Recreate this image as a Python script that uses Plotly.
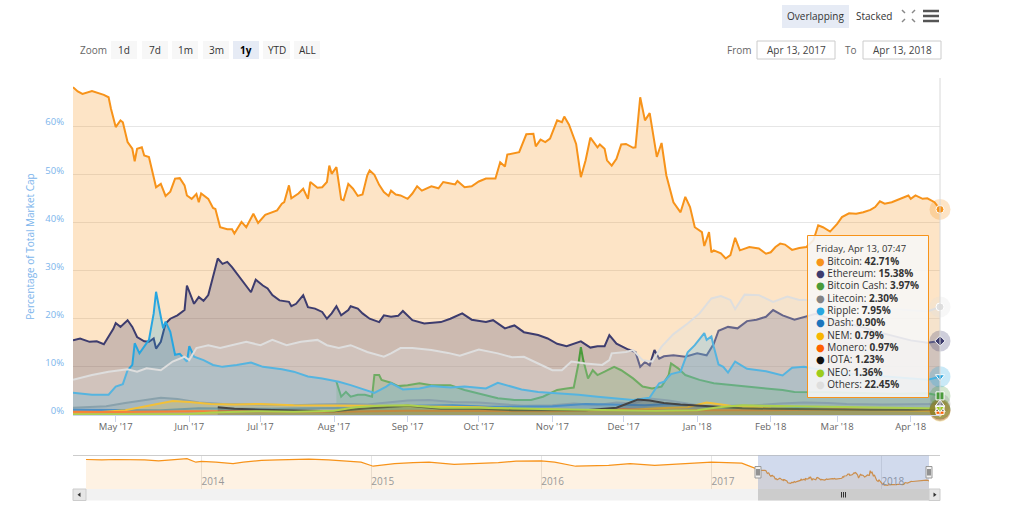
import plotly.graph_objects as go

# ---- data: share of total crypto market cap, in percent ----
btc_dates = [
    "2017-04-13", "2017-04-15", "2017-04-17", "2017-04-21", "2017-04-26", "2017-04-28", "2017-04-29",
    "2017-05-01", "2017-05-03", "2017-05-04", "2017-05-06", "2017-05-08", "2017-05-09", "2017-05-10",
    "2017-05-12", "2017-05-13", "2017-05-15", "2017-05-18", "2017-05-20", "2017-05-22", "2017-05-24",
    "2017-05-26", "2017-05-28", "2017-05-30", "2017-05-31",
    "2017-06-02", "2017-06-04", "2017-06-05", "2017-06-06", "2017-06-09", "2017-06-11", "2017-06-12",
    "2017-06-14", "2017-06-17", "2017-06-19", "2017-06-20", "2017-06-23", "2017-06-25", "2017-06-28",
    "2017-06-30",
    "2017-07-03", "2017-07-05", "2017-07-08", "2017-07-10", "2017-07-11", "2017-07-13", "2017-07-14",
    "2017-07-17", "2017-07-19", "2017-07-21", "2017-07-22", "2017-07-25", "2017-07-27", "2017-07-29",
    "2017-07-30", "2017-07-31",
    "2017-08-02", "2017-08-04", "2017-08-05", "2017-08-07", "2017-08-09", "2017-08-11", "2017-08-13",
    "2017-08-15", "2017-08-16", "2017-08-18", "2017-08-20", "2017-08-22", "2017-08-24", "2017-08-25",
    "2017-08-27", "2017-08-29",
    "2017-09-01", "2017-09-03", "2017-09-05", "2017-09-07", "2017-09-11", "2017-09-14", "2017-09-16",
    "2017-09-18", "2017-09-21", "2017-09-22", "2017-09-25", "2017-09-28",
    "2017-10-01", "2017-10-04", "2017-10-08", "2017-10-10", "2017-10-12", "2017-10-13", "2017-10-16",
    "2017-10-18", "2017-10-21", "2017-10-24", "2017-10-25", "2017-10-27", "2017-10-29", "2017-10-31",
    "2017-11-03", "2017-11-05", "2017-11-06", "2017-11-08", "2017-11-11", "2017-11-13", "2017-11-15",
    "2017-11-17", "2017-11-20", "2017-11-21", "2017-11-23", "2017-11-24", "2017-11-26", "2017-11-28",
    "2017-11-30",
    "2017-12-02", "2017-12-05", "2017-12-06", "2017-12-08", "2017-12-10", "2017-12-12", "2017-12-15",
    "2017-12-17", "2017-12-19", "2017-12-22", "2017-12-23", "2017-12-25", "2017-12-27", "2017-12-29",
    "2017-12-31",
    "2018-01-03", "2018-01-04", "2018-01-06", "2018-01-07", "2018-01-08", "2018-01-11", "2018-01-13",
    "2018-01-15", "2018-01-17", "2018-01-19", "2018-01-23", "2018-01-27", "2018-01-30",
    "2018-02-01", "2018-02-03", "2018-02-05", "2018-02-07", "2018-02-10", "2018-02-13", "2018-02-16",
    "2018-02-19", "2018-02-21", "2018-02-23", "2018-02-26",
    "2018-03-01", "2018-03-03", "2018-03-06", "2018-03-09", "2018-03-12", "2018-03-15", "2018-03-17",
    "2018-03-19", "2018-03-21", "2018-03-24", "2018-03-26", "2018-03-29", "2018-03-31",
    "2018-04-01", "2018-04-03", "2018-04-06", "2018-04-08", "2018-04-11", "2018-04-13 07:47",
]
btc = [
    68.1, 67.2, 66.7, 67.3, 66.5, 66.0, 63.6,
    59.8, 61.2, 60.8, 56.7, 55.3, 52.7, 55.3, 55.6, 53.9, 53.6, 47.3, 48.0, 45.5, 46.4, 49.1, 49.2, 47.7, 45.6,
    44.9, 45.9, 44.2, 46.0, 44.9, 43.0, 42.8, 39.0, 38.6, 38.6, 37.7, 40.1, 39.0, 41.8, 39.9,
    41.6, 42.0, 42.5, 43.9, 44.2, 47.7, 45.0, 46.0, 47.0, 44.9, 48.4, 47.2, 47.3, 48.4, 51.8, 50.1,
    51.5, 44.8, 44.6, 48.0, 47.0, 45.5, 45.8, 49.8, 50.8, 49.9, 47.8, 46.3, 45.5, 46.6, 45.8, 45.6,
    44.9, 46.0, 47.5, 46.6, 47.5, 47.1, 48.4, 48.2, 47.9, 48.6, 47.3, 47.5,
    48.5, 49.1, 49.1, 52.5, 51.6, 54.1, 54.4, 54.6, 58.3, 58.4, 55.8, 57.2, 56.7, 57.4,
    61.2, 60.8, 62.0, 60.3, 56.3, 49.4, 52.9, 57.6, 55.6, 56.2, 55.3, 52.9, 51.8, 53.2, 56.2,
    56.3, 55.5, 55.6, 66.0, 61.2, 62.7, 53.6, 56.5, 49.8, 44.2, 43.5, 42.1, 45.3, 43.2, 39.0,
    38.0, 35.1, 38.0, 33.8, 34.2, 33.6, 32.5, 33.2, 36.8, 34.2, 34.9, 34.6, 33.5,
    33.8, 34.9, 35.6, 35.4, 34.3, 34.7, 34.9, 36.3, 39.4, 39.0, 38.1,
    39.7, 41.1, 41.9, 41.8, 42.1, 42.6, 43.2, 44.4, 43.9, 44.2, 44.6, 45.1, 45.6,
    44.9, 45.6, 44.9, 45.0, 44.2, 42.71,
]

eth_dates = [
    "2017-04-13", "2017-04-16", "2017-04-20", "2017-04-23", "2017-04-26", "2017-04-30", "2017-05-01",
    "2017-05-03", "2017-05-06", "2017-05-08", "2017-05-10", "2017-05-13", "2017-05-15", "2017-05-17",
    "2017-05-18", "2017-05-20", "2017-05-22", "2017-05-24", "2017-05-27", "2017-05-30", "2017-05-31",
    "2017-06-02", "2017-06-03", "2017-06-05", "2017-06-07", "2017-06-09", "2017-06-11", "2017-06-13",
    "2017-06-15", "2017-06-17", "2017-06-19", "2017-06-23", "2017-06-27", "2017-06-29", "2017-07-02",
    "2017-07-04", "2017-07-06", "2017-07-09", "2017-07-13", "2017-07-14", "2017-07-16", "2017-07-19",
    "2017-07-21", "2017-07-24", "2017-07-27", "2017-07-29", "2017-07-31", "2017-08-02", "2017-08-04",
    "2017-08-07", "2017-08-08", "2017-08-11", "2017-08-13", "2017-08-16", "2017-08-20", "2017-08-22",
    "2017-08-25", "2017-08-28", "2017-08-30", "2017-09-03", "2017-09-08", "2017-09-15", "2017-09-19",
    "2017-09-24", "2017-09-28", "2017-10-04", "2017-10-07", "2017-10-12", "2017-10-16", "2017-10-20",
    "2017-10-26", "2017-10-30", "2017-11-03", "2017-11-07", "2017-11-13", "2017-11-17", "2017-11-20",
    "2017-11-23", "2017-11-25", "2017-11-28", "2017-12-03", "2017-12-06", "2017-12-08", "2017-12-10",
    "2017-12-12", "2017-12-14", "2017-12-16", "2017-12-18", "2017-12-22", "2017-12-27", "2018-01-01",
    "2018-01-05", "2018-01-08", "2018-01-10", "2018-01-14", "2018-01-18", "2018-01-22", "2018-01-26",
    "2018-01-30", "2018-02-02", "2018-02-06", "2018-02-11", "2018-02-20", "2018-03-01", "2018-03-10",
    "2018-03-20", "2018-04-01", "2018-04-08", "2018-04-13 07:47",
]
eth = [
    15.5, 15.9, 15.2, 15.3, 14.7, 17.9, 19.1, 18.3, 19.7, 18.3, 16.2, 15.3, 15.2, 15.9, 13.8,
    15.2, 19.0, 20.0, 20.7, 21.8, 26.9, 24.5, 23.1, 24.5, 23.7, 24.9, 28.7, 32.5, 31.4, 31.8,
    30.7, 28.0, 25.5, 28.1, 26.9, 26.3, 24.9, 23.8, 23.5, 22.6, 23.1, 24.9, 22.4, 22.1, 21.4,
    20.0, 21.1, 22.6, 20.7, 21.8, 22.6, 22.1, 21.1, 20.0, 19.3, 20.7, 20.4, 20.6, 21.6, 19.7,
    19.0, 19.3, 20.0, 21.1, 19.8, 19.3, 19.7, 18.0, 18.6, 17.2, 16.6, 15.9, 14.8, 14.3, 15.3,
    14.0, 14.3, 14.3, 16.6, 14.8, 13.6, 13.1, 10.0, 11.0, 10.3, 13.5, 11.7, 12.2, 12.4, 12.1,
    12.8, 12.4, 14.8, 17.5, 18.3, 18.0, 19.5, 19.8, 20.4, 21.8, 20.7, 19.8, 21.0, 19.5, 18.5,
    17.0, 15.5, 15.0, 15.38,
]

bch_dates = [
    "2017-08-02", "2017-08-04", "2017-08-06", "2017-08-08", "2017-08-11", "2017-08-14", "2017-08-17",
    "2017-08-18", "2017-08-20", "2017-08-21", "2017-08-25", "2017-08-28", "2017-09-01", "2017-09-06",
    "2017-09-11", "2017-09-19", "2017-09-25", "2017-10-04", "2017-10-09", "2017-10-16", "2017-10-23",
    "2017-10-28", "2017-11-03", "2017-11-07", "2017-11-10", "2017-11-12", "2017-11-13", "2017-11-14",
    "2017-11-16", "2017-11-18", "2017-11-20", "2017-11-23", "2017-11-27", "2017-11-30", "2017-12-05",
    "2017-12-09", "2017-12-13", "2017-12-17", "2017-12-20", "2017-12-21", "2017-12-24", "2017-12-27",
    "2018-01-02", "2018-01-08", "2018-01-15", "2018-01-22", "2018-01-30", "2018-02-06", "2018-02-11",
    "2018-02-25", "2018-03-10", "2018-03-25", "2018-04-08", "2018-04-13 07:47",
]
bch = [
    6.9, 3.8, 4.8, 3.8, 4.2, 4.2, 3.8, 8.3, 8.3, 7.3, 6.7, 6.0, 6.2, 6.6, 6.2, 6.2, 5.2, 4.2,
    3.5, 3.1, 3.1, 3.8, 5.2, 5.5, 5.7, 10.7, 14.1, 11.4, 7.6, 9.3, 8.3, 9.0, 10.0, 9.3, 7.6,
    5.9, 5.5, 5.9, 8.3, 10.7, 9.7, 8.3, 7.3, 6.6, 6.2, 5.9, 5.5, 5.2, 4.8, 4.7, 4.5, 4.4, 4.5, 3.97,
]

ltc_dates = [
    "2017-04-13", "2017-04-27", "2017-05-05", "2017-05-12", "2017-05-20", "2017-05-27", "2017-06-05",
    "2017-06-15", "2017-06-25", "2017-07-05", "2017-07-15", "2017-07-25", "2017-08-05", "2017-08-15",
    "2017-08-25", "2017-09-01", "2017-09-10", "2017-09-20", "2017-10-01", "2017-10-10", "2017-10-20",
    "2017-11-01", "2017-11-10", "2017-11-20", "2017-11-28", "2017-12-05", "2017-12-12", "2017-12-20",
    "2017-12-28", "2018-01-05", "2018-01-15", "2018-01-25", "2018-02-05", "2018-02-15", "2018-02-25",
    "2018-03-05", "2018-03-20", "2018-04-01", "2018-04-13 07:47",
]
ltc = [
    1.5, 1.8, 2.5, 3.0, 3.6, 3.3, 2.6, 2.3, 2.2, 2.2, 2.0, 2.2, 2.3, 2.2, 2.6, 3.0, 3.1, 2.7, 2.6,
    2.2, 1.9, 2.0, 2.4, 2.1, 2.6, 2.4, 3.4, 3.0, 2.4, 1.7, 1.9, 2.0, 2.4, 2.6, 2.5, 2.3, 2.2, 2.3, 2.30,
]

xrp_dates = [
    "2017-04-13", "2017-04-21", "2017-04-28", "2017-05-01", "2017-05-04", "2017-05-06", "2017-05-08",
    "2017-05-09", "2017-05-11", "2017-05-13", "2017-05-15", "2017-05-17", "2017-05-18", "2017-05-20",
    "2017-05-21", "2017-05-22", "2017-05-24", "2017-05-26", "2017-05-28", "2017-05-31", "2017-06-01",
    "2017-06-03", "2017-06-07", "2017-06-11", "2017-06-15", "2017-06-21", "2017-06-27", "2017-07-02",
    "2017-07-10", "2017-07-15", "2017-07-21", "2017-07-27", "2017-08-03", "2017-08-08", "2017-08-14",
    "2017-08-18", "2017-08-23", "2017-08-25", "2017-08-30", "2017-09-06", "2017-09-11", "2017-09-19",
    "2017-09-25", "2017-10-04", "2017-10-09", "2017-10-13", "2017-10-19", "2017-10-26", "2017-11-04",
    "2017-11-12", "2017-11-20", "2017-11-28", "2017-12-05", "2017-12-12", "2017-12-14", "2017-12-16",
    "2017-12-18", "2017-12-21", "2017-12-25", "2017-12-28", "2017-12-31", "2018-01-04", "2018-01-05",
    "2018-01-07", "2018-01-08", "2018-01-10", "2018-01-12", "2018-01-14", "2018-01-17", "2018-01-22",
    "2018-01-30", "2018-02-06", "2018-02-10", "2018-02-15", "2018-03-01", "2018-03-15", "2018-04-01",
    "2018-04-08", "2018-04-13 07:47",
]
xrp = [
    4.6, 4.2, 4.2, 5.9, 6.4, 9.3, 10.4, 14.9, 12.8, 14.2, 15.6, 21.1, 25.6, 20.4, 18.0, 19.4, 17.3,
    12.5, 12.7, 11.1, 14.3, 12.1, 11.4, 10.4, 10.0, 10.4, 10.9, 10.0, 9.5, 9.0, 8.0, 7.6, 6.9, 6.2,
    5.2, 4.6, 5.9, 6.6, 5.3, 5.5, 6.0, 5.7, 5.9, 5.5, 6.7, 6.2, 5.3, 4.8, 4.5, 4.2, 3.8, 3.5, 3.1,
    3.6, 5.2, 6.6, 6.9, 8.5, 9.0, 13.0, 14.5, 17.0, 15.6, 16.3, 14.2, 10.5, 10.0, 8.8, 11.1, 9.6,
    9.1, 8.2, 9.8, 10.0, 8.8, 8.2, 7.6, 7.3, 7.95,
]

dash_dates = [
    "2017-04-13", "2017-05-01", "2017-05-20", "2017-06-05", "2017-06-20", "2017-07-05", "2017-07-20",
    "2017-08-05", "2017-08-20", "2017-09-05", "2017-09-20", "2017-10-05", "2017-10-20", "2017-11-01",
    "2017-11-15", "2017-11-28", "2017-12-10", "2017-12-20", "2018-01-01", "2018-01-15", "2018-02-01",
    "2018-02-15", "2018-03-01", "2018-03-15", "2018-04-01", "2018-04-13 07:47",
]
dash = [
    1.1, 1.1, 1.0, 1.4, 1.3, 1.3, 1.4, 1.4, 1.5, 1.9, 2.0, 1.7, 1.7, 1.8, 2.3, 2.2, 2.0, 2.3, 1.8,
    1.4, 1.4, 1.5, 1.2, 1.1, 0.9, 0.90,
]

nem_dates = [
    "2017-04-13", "2017-04-25", "2017-05-05", "2017-05-12", "2017-05-20", "2017-05-25", "2017-06-01",
    "2017-06-10", "2017-06-20", "2017-07-01", "2017-07-15", "2017-08-01", "2017-08-15", "2017-09-01",
    "2017-09-15", "2017-10-01", "2017-10-15", "2017-11-01", "2017-11-15", "2017-12-01", "2017-12-15",
    "2017-12-28", "2018-01-05", "2018-01-15", "2018-02-01", "2018-02-15", "2018-03-01", "2018-03-15",
    "2018-04-01", "2018-04-13 07:47",
]
nem = [
    0.5, 0.6, 1.0, 1.7, 2.4, 2.9, 2.7, 2.3, 2.2, 2.3, 2.0, 2.0, 1.9, 1.8, 1.7, 1.6, 1.3, 1.1, 1.0,
    1.0, 1.4, 1.6, 2.6, 1.9, 1.4, 1.2, 1.1, 0.9, 0.8, 0.79,
]

xmr_dates = [
    "2017-04-13", "2017-05-01", "2017-06-01", "2017-07-01", "2017-08-01", "2017-09-01", "2017-10-01",
    "2017-11-01", "2017-12-01", "2017-12-20", "2018-01-05", "2018-02-01", "2018-03-01", "2018-04-01",
    "2018-04-13 07:47",
]
xmr = [0.7, 0.6, 0.8, 0.7, 0.7, 0.9, 0.9, 0.8, 1.2, 0.9, 1.0, 1.0, 1.2, 1.0, 0.97]

iota_dates = [
    "2017-06-13", "2017-06-20", "2017-07-01", "2017-07-15", "2017-08-01", "2017-08-15", "2017-09-01",
    "2017-09-15", "2017-10-01", "2017-10-15", "2017-11-01", "2017-11-15", "2017-11-28", "2017-12-04",
    "2017-12-07", "2017-12-12", "2017-12-18", "2017-12-25", "2018-01-01", "2018-01-10", "2018-01-20",
    "2018-02-01", "2018-02-15", "2018-03-01", "2018-03-15", "2018-04-01", "2018-04-13 07:47",
]
iota = [
    1.6, 1.3, 1.1, 0.9, 0.8, 1.4, 1.9, 1.3, 1.3, 1.0, 1.0, 1.0, 1.5, 2.6, 3.2, 3.0, 2.5, 2.2, 2.0,
    1.6, 1.4, 1.3, 1.2, 1.2, 1.1, 1.1, 1.23,
]

neo_dates = [
    "2017-04-13", "2017-05-01", "2017-05-15", "2017-06-01", "2017-06-10", "2017-06-20", "2017-07-01",
    "2017-07-15", "2017-08-01", "2017-08-10", "2017-08-20", "2017-09-01", "2017-09-15", "2017-10-01",
    "2017-10-15", "2017-11-01", "2017-11-15", "2017-12-01", "2017-12-15", "2018-01-01", "2018-01-10",
    "2018-01-20", "2018-02-01", "2018-02-15", "2018-03-01", "2018-03-15", "2018-04-01", "2018-04-13 07:47",
]
neo = [
    0.1, 0.1, 0.1, 0.2, 0.5, 0.7, 0.8, 0.7, 0.9, 1.6, 1.9, 2.0, 1.5, 1.5, 1.3, 1.2, 1.1, 1.0, 0.9,
    1.0, 1.6, 2.0, 1.9, 1.8, 1.7, 1.5, 1.4, 1.36,
]

oth_dates = [
    "2017-04-13", "2017-04-21", "2017-04-28", "2017-05-06", "2017-05-10", "2017-05-14", "2017-05-20",
    "2017-05-25", "2017-05-30", "2017-06-01", "2017-06-04", "2017-06-09", "2017-06-14", "2017-06-19",
    "2017-06-25", "2017-07-01", "2017-07-06", "2017-07-12", "2017-07-18", "2017-07-25", "2017-07-29",
    "2017-08-03", "2017-08-08", "2017-08-15", "2017-08-22", "2017-08-25", "2017-08-29", "2017-09-03",
    "2017-09-11", "2017-09-18", "2017-09-23", "2017-10-01", "2017-10-09", "2017-10-15", "2017-10-20",
    "2017-10-26", "2017-11-01", "2017-11-05", "2017-11-09", "2017-11-15", "2017-11-22", "2017-11-25",
    "2017-11-26", "2017-12-02", "2017-12-05", "2017-12-09", "2017-12-13", "2017-12-17", "2017-12-22",
    "2017-12-28", "2018-01-02", "2018-01-07", "2018-01-11", "2018-01-15", "2018-01-17", "2018-01-21",
    "2018-01-27", "2018-02-02", "2018-02-08", "2018-02-13", "2018-02-25", "2018-03-10", "2018-03-25",
    "2018-04-08", "2018-04-13 07:47",
]
oth = [
    7.3, 8.3, 9.0, 9.5, 9.0, 9.7, 9.3, 11.1, 12.1, 11.4, 13.9, 14.5, 13.9, 14.5, 15.2, 14.5, 15.6,
    14.5, 15.2, 15.6, 14.5, 13.9, 14.5, 13.1, 12.1, 12.8, 13.9, 13.9, 13.5, 12.9, 12.3, 13.6, 12.8,
    12.0, 12.1, 10.7, 9.3, 9.3, 11.1, 10.7, 10.4, 11.4, 12.8, 13.1, 13.5, 11.4, 11.1, 14.2, 16.8,
    19.0, 21.1, 24.2, 24.7, 23.9, 22.0, 25.0, 24.9, 23.5, 24.6, 23.9, 24.0, 23.0, 22.0, 21.5, 22.45,
]

# bitcoin share before the selected year, for the navigator strip
nav_dates = [
    "2013-04-28", "2013-06-01", "2013-07-01", "2013-08-01", "2013-09-01", "2013-10-01", "2013-11-01",
    "2013-12-01", "2013-12-20", "2014-01-01", "2014-02-01", "2014-03-10", "2014-04-01", "2014-05-10",
    "2014-06-15", "2014-08-20", "2014-10-01", "2014-12-10", "2015-01-05", "2015-02-20", "2015-04-01",
    "2015-05-05", "2015-06-28", "2015-08-25", "2015-10-01", "2015-11-08", "2016-01-01", "2016-01-30",
    "2016-03-15", "2016-05-25", "2016-07-10", "2016-09-01", "2016-11-15", "2017-01-01", "2017-03-07",
    "2017-03-25", "2017-04-06",
]
nav_btc = [
    91, 90, 91, 91, 90, 88, 91, 93, 85, 87, 85, 82, 85, 89, 90, 92, 90, 85, 76, 82, 84, 85, 80, 82,
    84, 87.5, 88, 85, 76, 78, 82, 78, 82, 85, 83, 75, 70,
]

series = [
    ("Bitcoin", btc_dates, btc, "#f7931a", "circle"),
    ("Ethereum", eth_dates, eth, "#3d3c6e", "diamond"),
    ("Bitcoin Cash", bch_dates, bch, "#4a9b3a", "square"),
    ("Litecoin", ltc_dates, ltc, "#848484", "triangle-up"),
    ("Ripple", xrp_dates, xrp, "#27a6e0", "triangle-down"),
    ("Dash", dash_dates, dash, "#1c75bc", "circle"),
    ("NEM", nem_dates, nem, "#f8b600", "diamond"),
    ("Monero", xmr_dates, xmr, "#ff6000", "square"),
    ("IOTA", iota_dates, iota, "#111111", "triangle-up"),
    ("NEO", neo_dates, neo, "#9ccc1c", "triangle-down"),
    ("Others", oth_dates, oth, "#dedede", "circle"),
]

W, H = 1024, 505
ML, MR, MT, MB = 73, 84, 78, 5
PW, PH = W - ML - MR, H - MT - MB


def px(x):
    return (x - ML) / PW


def py(y):
    return (H - MB - y) / PH


def rgba(hex_color, a):
    h = hex_color.lstrip("#")
    return "rgba({},{},{},{})".format(int(h[0:2], 16), int(h[2:4], 16), int(h[4:6], 16), a)


fig = go.Figure()

for name, d, v, c, sym in series:
    assert len(d) == len(v), name
    fig.add_trace(go.Scatter(
        x=d, y=v, name=name, mode="lines", line=dict(color=c, width=2),
        fill="tozeroy", fillcolor=rgba(c, 0.25), hoverinfo="skip",
    ))

# hover halos + markers on the last point
for name, d, v, c, sym in series:
    fig.add_trace(go.Scatter(
        x=[d[-1]], y=[v[-1]], mode="markers", cliponaxis=False, hoverinfo="skip",
        marker=dict(size=21, color=rgba(c, 0.25), symbol="circle"),
    ))
for name, d, v, c, sym in series:
    fig.add_trace(go.Scatter(
        x=[d[-1]], y=[v[-1]], mode="markers", cliponaxis=False, hoverinfo="skip",
        marker=dict(size=8, color=c, symbol=sym, line=dict(color="#ffffff", width=1)),
    ))

assert len(nav_dates) == len(nav_btc)
fig.add_trace(go.Scatter(
    x=nav_dates + btc_dates, y=nav_btc + btc, xaxis="x2", yaxis="y2", mode="lines",
    line=dict(color="#f7931a", width=1.2), fill="tozeroy", fillcolor=rgba("#f7931a", 0.12),
    hoverinfo="skip",
))

shapes = []
annotations = []


def box(x0, y0, x1, y1, fill, line=None, width=1):
    shapes.append(dict(
        type="rect", xref="paper", yref="paper", x0=px(x0), x1=px(x1), y0=py(y1), y1=py(y0),
        fillcolor=fill, line=dict(color=line or fill, width=width if line else 0),
    ))


def seg(x0, y0, x1, y1, color, width=1):
    shapes.append(dict(
        type="line", xref="paper", yref="paper", x0=px(x0), x1=px(x1), y0=py(y0), y1=py(y1),
        line=dict(color=color, width=width),
    ))


def label(x, y, text, size=10, color="#333333", anchor="center"):
    annotations.append(dict(
        xref="paper", yref="paper", x=px(x), y=py(y), text=text, showarrow=False,
        xanchor=anchor, yanchor="middle", font=dict(size=size, color=color),
    ))


# right edge of plot
seg(940, 78, 940, 415, "#d8d8d8")

# navigator
seg(73, 455.5, 940, 455.5, "#cccccc")
box(758, 455.5, 929, 489, "rgba(102,133,194,0.3)")
for hx in (758, 929):
    box(hx - 3, 466.5, hx + 3, 478, "#f2f2f2", "#999999")
    seg(hx - 1, 469, hx - 1, 475.5, "#333333")
    seg(hx + 1, 469, hx + 1, 475.5, "#333333")

# scrollbar
box(73, 489, 940, 500.5, "#f2f2f2")
box(758, 489, 929, 500.5, "#cccccc")
box(73, 489, 86, 500.5, "#e6e6e6", "#cccccc")
box(929, 489, 940, 500.5, "#e6e6e6", "#cccccc")
for gx in (841.5, 843.5, 845.5):
    seg(gx, 492, gx, 497.5, "#333333")
shapes.append(dict(type="path", xref="paper", yref="paper", fillcolor="#333333", line=dict(width=0),
                   path="M {},{} L {},{} L {},{} Z".format(px(77.5), py(494.8), px(80.5), py(492.5), px(80.5), py(497))))
shapes.append(dict(type="path", xref="paper", yref="paper", fillcolor="#333333", line=dict(width=0),
                   path="M {},{} L {},{} L {},{} Z".format(px(936.5), py(494.8), px(933.5), py(492.5), px(933.5), py(497))))

# zoom buttons
label(93.5, 50, "Zoom", 10, "#666666")
for text, x0, x1 in [("1d", 111, 137), ("7d", 142, 168), ("1m", 172, 198), ("3m", 203, 229),
                     ("1y", 233, 259), ("YTD", 263, 290), ("ALL", 294, 320)]:
    on = text == "1y"
    box(x0, 41, x1, 59, "#e6ebf5" if on else "#f7f7f7")
    label((x0 + x1) / 2, 50, "<b>1y</b>" if on else text, 10, "#000000" if on else "#333333")

# date range inputs
label(739.5, 50, "From", 10, "#666666")
box(757, 41, 835, 59, "#ffffff", "#cccccc")
label(796, 50, "Apr 13, 2017", 10, "#444444")
label(850.5, 50, "To", 10, "#666666")
box(863, 41, 941, 59, "#ffffff", "#cccccc")
label(902, 50, "Apr 13, 2018", 10, "#444444")

# view toggles and menu icons
box(782, 5, 849, 28, "#e6ebf5")
label(815.5, 16.5, "Overlapping", 10, "#333333")
label(873.5, 16.5, "Stacked", 10, "#333333")
for (ax, ay, bx, by) in [(902, 10, 905, 13), (915, 10, 912, 13), (902, 22, 905, 19), (915, 22, 912, 19)]:
    seg(ax, ay, bx, by, "#888888", 1.5)
for hy in (11, 16, 21):
    seg(923, hy, 939, hy, "#555555", 2.5)

# tooltip for the last point
box(807.5, 235.5, 928.5, 397.5, "rgba(247,247,247,0.88)", "#f7931a")
label(814, 248, "Friday, Apr 13, 07:47", 9.5, "#333333", "left")
for i, (name, d, v, c, sym) in enumerate(series):
    label(814, 260.7 + i * 12.33,
          "<span style='color:{}'>●</span> {}: <b>{:.2f}%</b>".format(c, name, v[-1]),
          10, "#333333", "left")

fig.update_layout(
    width=W, height=H,
    margin=dict(l=ML, r=MR, t=MT, b=MB),
    paper_bgcolor="#ffffff", plot_bgcolor="#ffffff",
    showlegend=False, hovermode=False,
    font=dict(family="Open Sans, DejaVu Sans, sans-serif", size=10, color="#333333"),
    xaxis=dict(
        domain=[0, 1], anchor="y", type="date",
        range=["2017-04-13", "2018-04-13 07:47"],
        tick0="2017-05-01", dtick="M1", tickformat="%b '%y",
        ticks="outside", ticklen=6, tickcolor="#ccd6eb",
        showline=True, linecolor="#ccd6eb", showgrid=False, zeroline=False,
        ticklabelstandoff=-3,
        tickfont=dict(size=9.5, color="#666666"), automargin=False,
    ),
    yaxis=dict(
        domain=[py(415), 1], anchor="x", range=[0, 70],
        tickvals=[0, 10, 20, 30, 40, 50, 60, 70],
        ticktext=["0%", "10%", "20%", "30%", "40%", "50%", "60%", ""],
        gridcolor="#e6e6e6", zeroline=False, showline=False,
        ticklabelshift=-4, ticklabelstandoff=8,
        tickfont=dict(size=9.5, color="#7cb5ec"), automargin=False,
        title=dict(text="Percentage of Total Market Cap", font=dict(size=10, color="#7cb5ec"), standoff=8),
    ),
    xaxis2=dict(
        domain=[px(86), px(929)], anchor="y2", type="date",
        range=["2013-04-28", "2018-04-13 07:47"],
        tick0="2014-01-01", dtick="M12", tickformat="%Y",
        ticklabelposition="inside right", ticks="", ticklabelstandoff=-4,
        showgrid=True, gridcolor="#e6e6e6", showline=False, zeroline=False,
        tickfont=dict(size=10, color="#999999"), automargin=False,
    ),
    yaxis2=dict(domain=[py(489), py(455.5)], anchor="x2", range=[25, 100], visible=False),
    shapes=shapes,
    annotations=annotations,
)

fig.write_html("out.html", config={"displayModeBar": False},
               post_script="document.body.style.margin='0px';")
